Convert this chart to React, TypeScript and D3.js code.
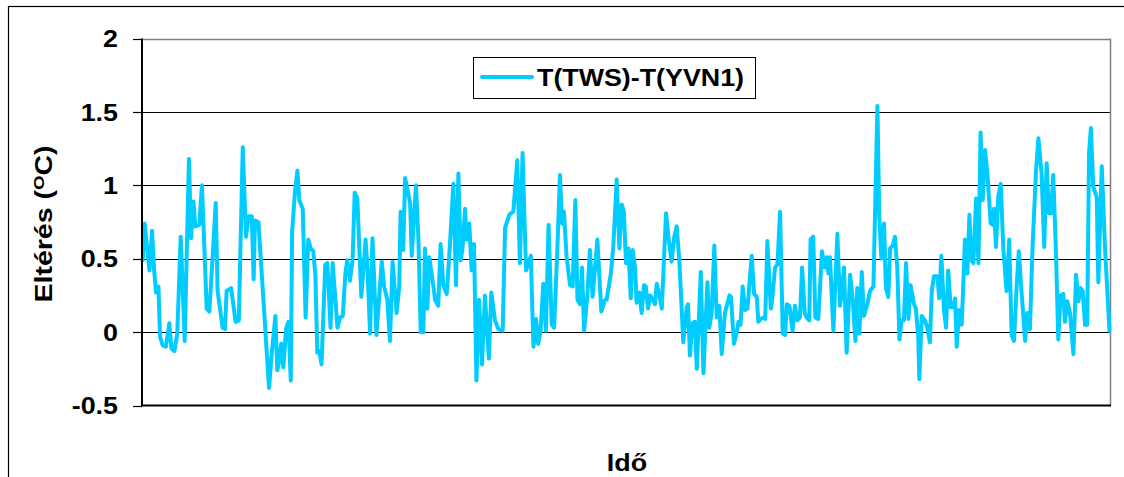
import React from "react";
import * as d3 from "d3";

// x: day index (0..365), y: temperature difference (°C)
const days = [
  0.3, 1.0, 2.8, 3.8, 4.5, 5.3, 6.2, 6.8, 7.8, 9.0, 10.3, 11.1, 12.2, 13.3, 14.6, 16.1, 17.7, 18.5, 19.4, 20.1,
  21.6, 22.6, 24.4, 25.4, 26.3, 27.8, 28.5, 30.4, 31.3, 31.9, 33.6, 35.3, 36.5, 38.0, 39.2, 40.2, 41.4, 42.1, 42.6, 43.9,
  47.9, 48.9, 50.3, 51.0, 51.8, 52.5, 53.3, 54.3, 55.2, 56.1, 56.6, 57.7, 58.6, 59.3, 60.6, 61.7, 62.7, 63.6, 64.6, 65.4,
  66.1, 66.9, 67.7, 69.1, 69.9, 71.1, 71.9, 73.7, 74.7, 75.7, 76.7, 77.4, 78.4, 79.4, 80.2, 81.2, 82.7, 84.3, 85.0, 86.0,
  86.9, 88.4, 90.4, 91.3, 92.5, 93.5, 94.5, 96.0, 97.0, 97.5, 98.5, 99.2, 101.1, 101.7, 103.3, 104.2, 105.1, 106.1, 106.7, 107.6,
  108.3, 109.9, 110.5, 111.7, 112.6, 113.6, 114.9, 116.1, 117.4, 118.4, 119.3, 120.2, 120.9, 121.8, 122.4, 123.4, 124.3, 125.2, 126.1, 127.1,
  128.2, 129.3, 130.8, 131.7, 133.1, 134.4, 136.0, 136.9, 138.5, 140.0, 141.5, 142.5, 143.5, 144.8, 146.6, 147.6, 148.6, 149.4, 150.3, 151.3,
  152.3, 153.3, 154.5, 155.4, 156.6, 157.6, 158.4, 159.1, 160.1, 161.4, 162.4, 163.4, 164.2, 165.2, 165.9, 166.7, 167.9, 168.9, 169.9, 171.7,
  173.2, 174.6, 175.2, 176.8, 177.7, 179.0, 180.0, 180.9, 181.7, 182.5, 183.4, 184.3, 185.0, 185.9, 186.5, 187.5, 188.4, 189.3, 190.0, 190.8,
  191.6, 192.6, 193.4, 194.1, 195.1, 196.0, 197.6, 198.5, 199.7, 200.7, 201.6, 202.6, 204.1, 205.4, 205.9, 206.6, 207.6, 208.5, 209.2, 210.7,
  211.7, 213.2, 213.9, 214.8, 215.8, 216.7, 217.7, 218.6, 219.8, 221.5, 222.1, 223.2, 224.2, 224.9, 225.7, 226.5, 227.4, 228.3, 229.9, 230.8,
  231.8, 232.4, 233.3, 234.3, 235.0, 235.8, 237.1, 237.6, 238.7, 239.6, 240.6, 241.6, 242.5, 243.1, 244.1, 245.3, 246.2, 247.1, 248.1, 248.9,
  249.9, 250.6, 251.6, 252.1, 253.1, 253.9, 255.0, 256.4, 257.4, 258.2, 258.8, 259.4, 260.7, 262.2, 263.2, 263.8, 264.7, 265.7, 267.0, 268.0,
  269.0, 269.7, 270.5, 271.4, 272.2, 273.5, 274.5, 275.8, 277.3, 278.0, 278.8, 279.8, 280.5, 281.4, 282.1, 283.1, 283.9, 284.8, 285.6, 286.4,
  287.3, 288.1, 289.0, 289.8, 291.1, 291.8, 292.7, 293.1, 294.0, 295.2, 296.1, 297.1, 297.8, 298.6, 299.9, 300.6, 301.4, 302.4, 303.2, 304.0,
  304.9, 305.9, 306.6, 307.2, 308.1, 309.1, 310.3, 311.2, 312.0, 312.7, 313.5, 314.5, 315.4, 316.2, 317.0, 317.9, 318.8, 320.0, 320.8, 321.3,
  322.0, 322.9, 323.8, 324.8, 326.0, 327.0, 327.9, 328.8, 329.8, 330.6, 331.7, 333.0, 333.8, 334.8, 335.8, 337.1, 338.0, 339.2, 340.2, 341.1,
  342.0, 342.8, 343.6, 344.6, 345.5, 346.4, 347.4, 348.0, 348.9, 349.9, 351.2, 352.2, 353.1, 353.9, 354.7, 355.6, 356.4, 357.1, 357.8, 358.7,
  360.0, 360.6, 361.9, 363.1, 364.8,
];

const diffs = [
  0.49, 0.74, 0.42, 0.69, 0.44, 0.27, 0.31, -0.03, -0.09, -0.10, 0.06, -0.11, -0.13, -0.01, 0.65, -0.06, 1.18, 0.64, 0.89, 0.72,
  0.73, 1.00, 0.16, 0.14, 0.41, 0.88, 0.28, 0.03, 0.02, 0.28, 0.30, 0.07, 0.08, 1.26, 0.65, 0.79, 0.79, 0.36, 0.76, 0.75,
  -0.38, -0.15, 0.11, -0.26, -0.19, -0.08, -0.24, 0.02, 0.07, -0.33, 0.68, 0.96, 1.10, 0.90, 0.84, 0.10, 0.63, 0.57, 0.55, 0.38,
  -0.14, -0.13, -0.22, 0.46, 0.47, 0.03, 0.47, 0.03, 0.10, 0.11, 0.40, 0.49, 0.35, 0.49, 0.95, 0.91, 0.24, 0.63, 0.44, -0.01,
  0.64, -0.02, 0.48, 0.31, 0.22, -0.06, 0.48, 0.13, 0.31, 0.82, 0.56, 1.05, 0.88, 0.52, 1.00, 0.65, 0.00, 0.00, 0.57, 0.16,
  0.51, 0.31, 0.22, 0.18, 0.60, 0.32, 0.26, 0.59, 1.01, 0.32, 1.08, 0.49, 0.58, 0.84, 0.63, 0.74, 0.42, 0.60, -0.33, 0.22,
  -0.22, 0.25, -0.18, 0.27, 0.08, 0.02, 0.01, 0.71, 0.80, 0.82, 1.17, 0.47, 1.22, 0.42, 0.52, -0.10, 0.09, -0.08, 0.01, 0.33,
  0.01, 0.73, 0.05, 0.03, 0.56, 1.07, 0.74, 0.82, 0.51, 0.32, 0.31, 0.90, 0.22, 0.19, 0.44, 0.01, 0.24, 0.56, 0.24, 0.63,
  0.14, 0.22, 0.22, 0.40, 0.58, 1.04, 0.57, 0.87, 0.82, 0.47, 0.57, 0.23, 0.56, 0.44, 0.20, 0.27, 0.13, 0.32, 0.31, 0.16,
  0.25, 0.22, 0.19, 0.33, 0.25, 0.16, 0.81, 0.65, 0.48, 0.65, 0.72, 0.49, -0.07, 0.17, 0.19, -0.16, 0.06, 0.07, -0.25, 0.41,
  -0.28, 0.34, 0.03, 0.13, 0.59, 0.10, 0.18, -0.15, 0.13, 0.25, 0.24, -0.08, -0.01, 0.07, 0.05, 0.31, 0.15, 0.16, 0.52, 0.26,
  0.24, 0.07, 0.09, 0.10, 0.09, 0.62, 0.16, 0.22, 0.44, 0.46, 0.82, -0.01, -0.02, 0.19, 0.18, 0.01, 0.18, 0.08, 0.10, 0.44,
  0.13, 0.10, 0.08, 0.63, 0.65, 0.10, 0.09, 0.55, 0.44, 0.51, 0.40, 0.51, 0.01, 0.67, 0.18, 0.26, 0.44, -0.14, 0.39, 0.22,
  -0.06, 0.30, -0.01, 0.41, 0.11, 0.19, 0.28, 0.31, 1.54, 0.79, 0.50, 0.74, 0.30, 0.24, 0.57, 0.59, 0.65, 0.44, -0.05, 0.08,
  0.08, 0.47, 0.09, 0.32, 0.19, 0.16, -0.03, -0.32, 0.11, 0.08, 0.03, -0.07, 0.28, 0.38, 0.38, 0.23, 0.52, 0.15, 0.03, 0.42,
  0.17, 0.17, 0.23, -0.10, 0.15, 0.05, 0.63, 0.40, 0.80, 0.49, 0.47, 0.91, 0.47, 1.36, 0.90, 1.24, 1.07, 0.74, 0.73, 0.84,
  0.58, 0.93, 1.01, 0.56, 0.28, 0.63, -0.02, -0.06, 0.31, 0.55, 0.26, -0.06, 0.13, 0.02, 0.58, 1.10, 1.32, 1.08, 0.58, 1.15,
  0.81, 0.81, 1.07, 0.56, -0.05, 0.25, 0.26, 0.07, 0.21, 0.13, -0.15, 0.39, 0.21, 0.30, 0.28, 0.05, 0.05, 1.22, 1.39, 0.99,
  0.92, 0.34, 1.13, 0.58, 0.01,
];

const yTicks = [-0.5, 0, 0.5, 1, 1.5, 2];
const yTickLabels = ["-0.5", "0", "0.5", "1", "1.5", "2"];
const seriesName = "T(TWS)-T(YVN1)";
const yTitleMain = "Eltérés (";
const yTitleSup = "O";
const yTitleEnd = "C)";
const xTitle = "Idő";
const dayDomain = [0, 365];

const W = 1124;
const H = 477;
const FONT = "'Liberation Sans', Arial, Helvetica, sans-serif";

export default function App() {
  const plot = { left: 142, right: 1110, top: 38.5, bottom: 405.5 };
  const x = d3.scaleLinear().domain(dayDomain).range([plot.left, plot.right]);
  const y = d3.scaleLinear().domain([-0.5, 2]).range([plot.bottom, plot.top]);

  const pts = days.map((d, i) => [d, diffs[i]] as [number, number]);
  const line = d3
    .line<[number, number]>()
    .x((d) => x(d[0]))
    .y((d) => y(d[1]));

  return (
    <svg
      width={W}
      height={H}
      style={{ position: "absolute", left: 0, top: 0, display: "block", background: "#fff" }}
      fontFamily={FONT}
    >
      <rect x={0} y={0} width={W} height={H} fill="#fff" />
      {/* outer chart frame */}
      <rect x={8.5} y={6.5} width={W + 20} height={H + 20} fill="none" stroke="#000" strokeWidth={1.2} />

      {/* gridlines */}
      {yTicks.slice(1, -1).map((t) => (
        <line key={"g" + t} x1={plot.left} x2={plot.right} y1={Math.round(y(t)) + 0.5} y2={Math.round(y(t)) + 0.5} stroke="#000" strokeWidth={1} />
      ))}
      {/* plot border top/right (grey) */}
      <line x1={plot.left} x2={plot.right} y1={Math.round(y(2)) + 0.5} y2={Math.round(y(2)) + 0.5} stroke="#808080" strokeWidth={1.5} />
      <line x1={plot.right + 0.5} x2={plot.right + 0.5} y1={plot.top} y2={plot.bottom} stroke="#808080" strokeWidth={1.5} />

      {/* series */}
      <path d={line(pts) || ""} fill="none" stroke="#00CCFF" strokeWidth={4} strokeLinejoin="round" strokeLinecap="round" />

      {/* axes */}
      <line x1={plot.left} x2={plot.left} y1={plot.top} y2={plot.bottom + 0.5} stroke="#000" strokeWidth={2} />
      <line x1={plot.left} x2={plot.right + 1} y1={plot.bottom} y2={plot.bottom} stroke="#000" strokeWidth={2} />
      {yTicks.map((t) => (
        <line key={"t" + t} x1={133} x2={plot.left} y1={Math.round(y(t)) + 0.5} y2={Math.round(y(t)) + 0.5} stroke="#000" strokeWidth={1.2} />
      ))}
      {yTicks.map((t, i) => (
        <text
          key={"l" + t}
          transform={`translate(118,${y(t)}) scale(1.12,1)`}
          dy="0.36em"
          textAnchor="end"
          fontSize={24}
          fontWeight="bold"
        >
          {yTickLabels[i]}
        </text>
      ))}

      {/* y title */}
      <text transform="translate(52,224) rotate(-90) scale(1.24,1)" textAnchor="middle" fontSize={23} fontWeight="bold">
        {yTitleMain}
        <tspan fontSize={15} dy={-8}>{yTitleSup}</tspan>
        <tspan dy={8}>{yTitleEnd}</tspan>
      </text>

      {/* x title */}
      <text transform="translate(627,471) scale(1.12,1)" textAnchor="middle" fontSize={24} fontWeight="bold">
        {xTitle}
      </text>

      {/* legend */}
      <rect x={473.5} y={57.5} width={282} height={41} fill="#fff" stroke="#000" strokeWidth={1} />
      <line x1={482} x2={532} y1={77} y2={77} stroke="#00CCFF" strokeWidth={4} strokeLinecap="round" />
      <text x={537} y={86} fontSize={24} fontWeight="bold" textLength={207} lengthAdjust="spacingAndGlyphs">
        {seriesName}
      </text>
    </svg>
  );
}
